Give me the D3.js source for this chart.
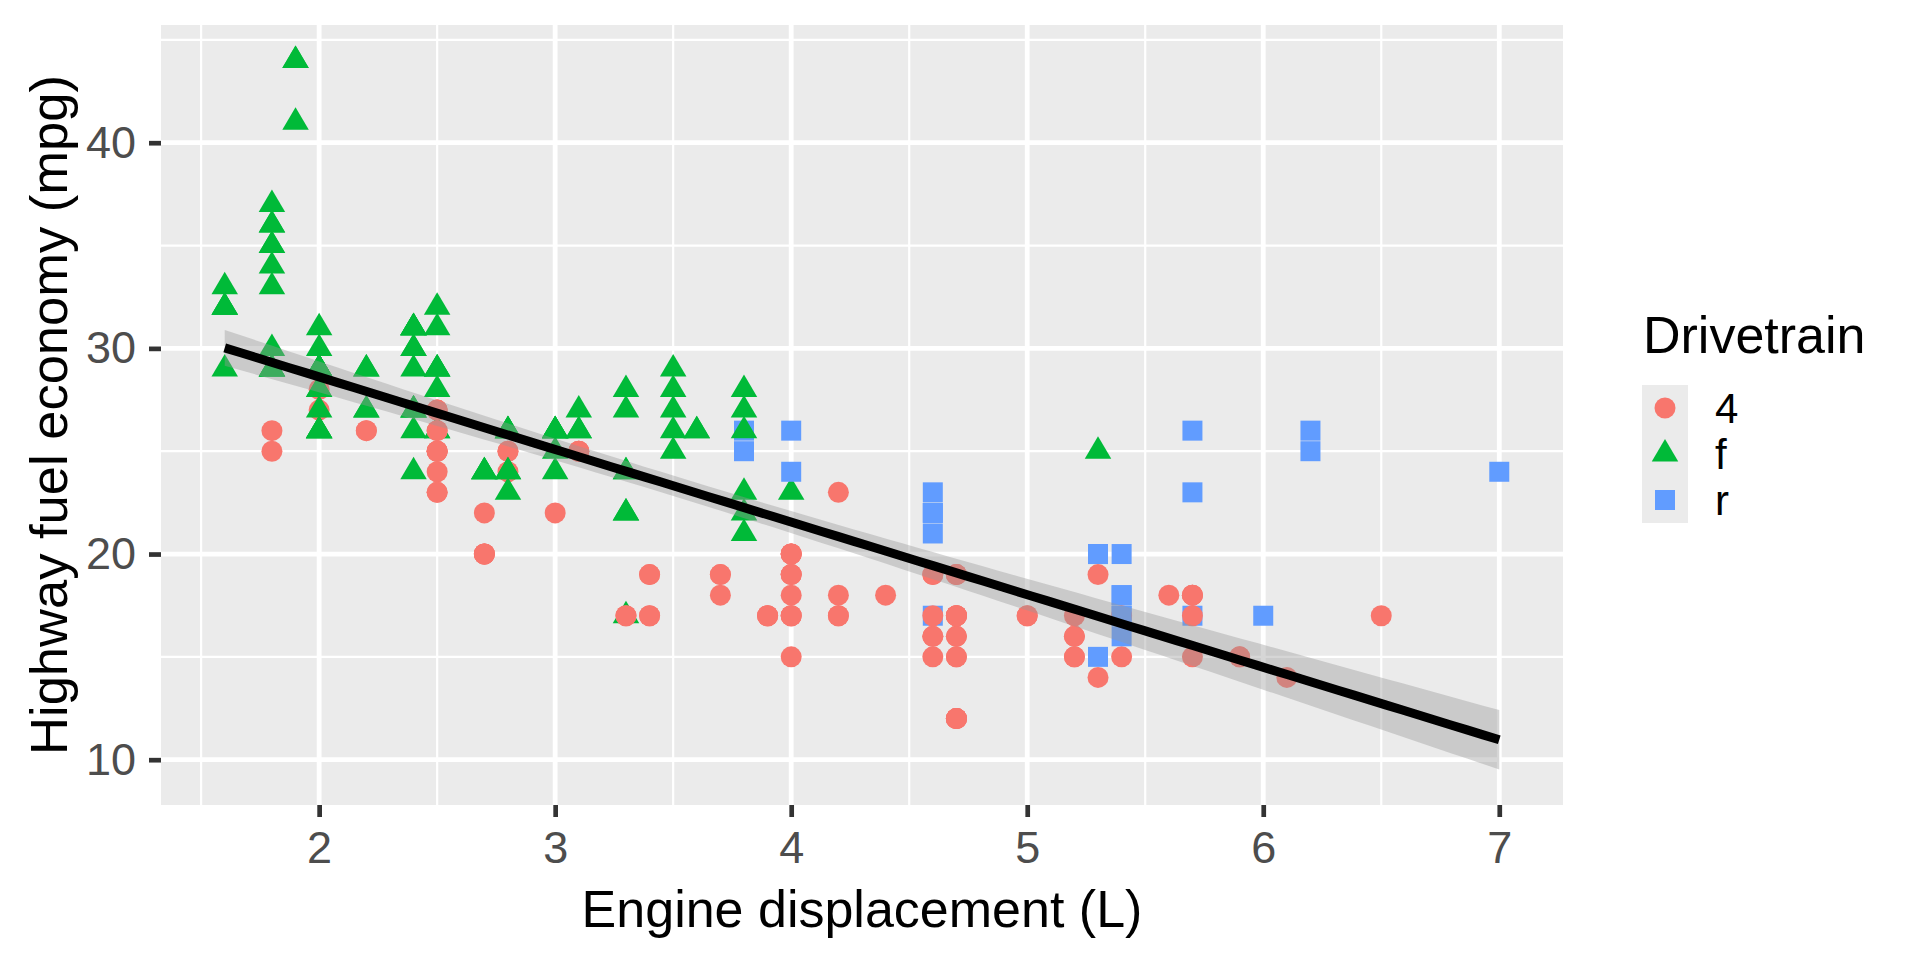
<!DOCTYPE html>
<html lang="en">
<head>
<meta charset="UTF-8">
<title>Highway fuel economy vs engine displacement</title>
<script src="https://cdn.jsdelivr.net/npm/d3@7"></script>
<style>
  body { margin: 0; background: #fff; }
  svg { display: block; font-family: "Liberation Sans", Arial, sans-serif; }
</style>
</head>
<body>
<svg id="chart" width="1920" height="960"></svg>
<script>
// one value per car, in row order (drawing order matters for overlaps)
const displ = [
  // audi
  1.8,1.8,2.0,2.0,2.8,2.8,3.1,1.8,1.8,2.0,2.0,2.8,2.8,3.1,3.1,2.8,3.1,4.2,
  // chevrolet
  5.3,5.3,5.3,5.7,6.0,5.7,5.7,6.2,6.2,7.0,5.3,5.3,5.7,6.5,2.4,2.4,3.1,3.5,3.6,
  // dodge
  2.4,3.0,3.3,3.3,3.3,3.3,3.3,3.8,3.8,3.8,4.0,
  3.7,3.7,3.9,3.9,4.7,4.7,4.7,5.2,5.2,
  3.9,4.7,4.7,4.7,5.2,5.7,5.9,
  4.7,4.7,4.7,4.7,4.7,4.7,5.2,5.2,5.7,5.9,
  // ford
  4.6,5.4,5.4,4.0,4.0,4.0,4.0,4.6,5.0,4.2,4.2,4.6,4.6,4.6,5.4,5.4,
  3.8,3.8,4.0,4.0,4.6,4.6,4.6,4.6,5.4,
  // honda
  1.6,1.6,1.6,1.6,1.6,1.8,1.8,1.8,2.0,
  // hyundai
  2.4,2.4,2.4,2.4,2.5,2.5,3.3,2.0,2.0,2.0,2.0,2.7,2.7,2.7,
  // jeep
  3.0,3.7,4.0,4.7,4.7,4.7,5.7,6.1,
  // land rover
  4.0,4.2,4.4,4.6,
  // lincoln
  5.4,5.4,5.4,
  // mercury
  4.0,4.0,4.6,5.0,
  // nissan
  2.4,2.4,2.5,2.5,3.5,3.5,3.0,3.0,3.5,3.3,3.3,4.0,5.6,
  // pontiac
  3.1,3.8,3.8,3.8,5.3,
  // subaru
  2.5,2.5,2.5,2.5,2.5,2.5,2.2,2.2,2.5,2.5,2.5,2.5,2.5,2.5,
  // toyota
  2.7,2.7,3.4,3.4,4.0,4.7,2.2,2.2,2.4,2.4,3.0,3.0,3.5,
  2.2,2.2,2.4,2.4,3.0,3.0,3.3,1.8,1.8,1.8,1.8,1.8,
  4.7,5.7,2.7,2.7,2.7,3.4,3.4,4.0,4.0,
  // volkswagen
  2.0,2.0,2.0,2.0,2.8,1.9,2.0,2.0,2.0,2.0,2.5,2.5,2.8,2.8,
  1.9,1.9,2.0,2.0,2.5,2.5,1.8,1.8,2.0,2.0,2.8,2.8,3.6
];

const hwy = [
  // audi
  29,29,31,30,26,26,27,26,25,28,27,25,25,25,25,24,25,23,
  // chevrolet
  20,15,20,17,17,26,23,26,25,24,19,14,15,17,27,30,26,29,26,
  // dodge
  24,24,22,22,24,24,17,22,21,23,23,
  19,18,17,17,19,19,12,17,15,
  17,17,12,17,16,18,15,
  16,12,15,16,17,12,15,16,17,15,
  // ford
  17,17,18,17,19,17,19,19,17,17,17,16,16,17,15,17,
  26,25,26,24,21,22,23,22,20,
  // honda
  33,32,32,29,32,34,36,36,29,
  // hyundai
  26,27,30,31,26,26,28,26,29,28,27,24,24,24,
  // jeep
  22,19,20,17,12,19,18,14,
  // land rover
  15,18,18,15,
  // lincoln
  17,16,18,
  // mercury
  17,19,19,17,
  // nissan
  29,27,31,32,27,26,26,25,25,17,17,20,18,
  // pontiac
  26,26,27,28,25,
  // subaru
  25,24,27,25,26,23,26,26,27,25,27,25,26,23,
  // toyota
  20,20,19,17,20,17,29,27,31,31,26,26,28,
  27,29,31,31,26,26,27,30,33,35,37,35,
  15,18,20,20,22,17,19,18,20,
  // volkswagen
  29,26,29,29,24,44,29,26,29,29,29,29,23,24,
  44,41,29,26,28,29,29,29,28,29,26,26,26
];

const drv = [
  // audi
  "f","f","f","f","f","f","f","4","4","4","4","4","4","4","4","4","4","4",
  // chevrolet
  "r","r","r","r","r","r","r","r","r","r","4","4","4","4","f","f","f","f","f",
  // dodge
  "f","f","f","f","f","f","f","f","f","f","f",
  "4","4","4","4","4","4","4","4","4",
  "4","4","4","4","4","4","4",
  "4","4","4","4","4","4","4","4","4","4",
  // ford
  "r","r","r","4","4","4","4","4","4","4","4","4","4","4","4","4",
  "r","r","r","r","r","r","r","r","r",
  // honda
  "f","f","f","f","f","f","f","f","f",
  // hyundai
  "f","f","f","f","f","f","f","f","f","f","f","f","f","f",
  // jeep
  "4","4","4","4","4","4","4","4",
  // land rover
  "4","4","4","4",
  // lincoln
  "r","r","r",
  // mercury
  "4","4","4","4",
  // nissan
  "f","f","f","f","f","f","f","f","f","4","4","4","4",
  // pontiac
  "f","f","f","f","f",
  // subaru
  "4","4","4","4","4","4","4","4","4","4","4","4","4","4",
  // toyota
  "4","4","4","4","4","4","f","f","f","f","f","f","f",
  "f","f","f","f","f","f","f","f","f","f","f","f",
  "4","4","4","4","4","4","4","4","4",
  // volkswagen
  "f","f","f","f","f","f","f","f","f","f","f","f","f","f",
  "f","f","f","f","f","f","f","f","f","f","f","f","f"
];

const drvLevels = ["4", "f", "r"];
const drvColors = ["#F8766D", "#00BA38", "#619CFF"];
const xTicks = [2, 3, 4, 5, 6, 7];
const yTicks = [10, 20, 30, 40];
const xMinor = [1.5, 2.5, 3.5, 4.5, 5.5, 6.5];
const yMinor = [15, 25, 35, 45];
const xTitle = "Engine displacement (L)";
const yTitle = "Highway fuel economy (mpg)";
const legendTitle = "Drivetrain";
const tCrit = 1.9703; // qt(0.975, df = 232)

const width = 1920, height = 960;
const panel = { left: 161, top: 25, right: 1563, bottom: 805 };

// linear model hwy ~ displ with 95% confidence band
const n = displ.length;
const xbar = d3.mean(displ), ybar = d3.mean(hwy);
const sxx = d3.sum(displ, x => (x - xbar) ** 2);
const sxy = d3.sum(displ, (x, i) => (x - xbar) * (hwy[i] - ybar));
const slope = sxy / sxx;
const intercept = ybar - slope * xbar;
const rss = d3.sum(displ, (x, i) => (hwy[i] - intercept - slope * x) ** 2);
const sigma = Math.sqrt(rss / (n - 2));
const [xmin, xmax] = d3.extent(displ);
const fit = d3.range(80).map(k => {
    const x = xmin + (xmax - xmin) * k / 79;
    const y = intercept + slope * x;
    const se = sigma * Math.sqrt(1 / n + (x - xbar) ** 2 / sxx);
    return { x, y, lo: y - tCrit * se, hi: y + tCrit * se };
});

function expand([a, b]) {
    const pad = (b - a) * 0.05;
    return [a - pad, b + pad];
}

const x = d3.scaleLinear()
    .domain(expand([xmin, xmax]))
    .range([panel.left, panel.right]);

const y = d3.scaleLinear()
    .domain(expand([
        Math.min(d3.min(hwy), d3.min(fit, d => d.lo)),
        Math.max(d3.max(hwy), d3.max(fit, d => d.hi))
    ]))
    .range([panel.bottom, panel.top]);

const color = d3.scaleOrdinal().domain(drvLevels).range(drvColors);

function shapePath(level) {
    if (level === "4") return d3.symbol(d3.symbolCircle, Math.PI * 10.5 * 10.5)();
    if (level === "r") return d3.symbol(d3.symbolSquare, 20 * 20)();
    const w = 26.5, h = 22.5;
    return `M0,${-2 * h / 3}L${w / 2},${h / 3}L${-w / 2},${h / 3}Z`;
}

const svg = d3.select("#chart")
    .attr("viewBox", [0, 0, width, height]);

svg.append("rect")
    .attr("width", width).attr("height", height)
    .attr("fill", "#ffffff");

// panel background + grid
svg.append("rect")
    .attr("x", panel.left).attr("y", panel.top)
    .attr("width", panel.right - panel.left)
    .attr("height", panel.bottom - panel.top)
    .attr("fill", "#EBEBEB");

const grid = svg.append("g").attr("stroke", "#ffffff");

grid.selectAll(".xminor").data(xMinor).join("line")
    .attr("x1", d => x(d)).attr("x2", d => x(d))
    .attr("y1", panel.top).attr("y2", panel.bottom)
    .attr("stroke-width", 2.2);

grid.selectAll(".yminor").data(yMinor.filter(v => y(v) >= panel.top)).join("line")
    .attr("x1", panel.left).attr("x2", panel.right)
    .attr("y1", d => y(d)).attr("y2", d => y(d))
    .attr("stroke-width", 2.2);

grid.selectAll(".xmajor").data(xTicks).join("line")
    .attr("x1", d => x(d)).attr("x2", d => x(d))
    .attr("y1", panel.top).attr("y2", panel.bottom)
    .attr("stroke-width", 4.8);

grid.selectAll(".ymajor").data(yTicks).join("line")
    .attr("x1", panel.left).attr("x2", panel.right)
    .attr("y1", d => y(d)).attr("y2", d => y(d))
    .attr("stroke-width", 4.8);

// points
svg.append("g")
    .selectAll("path")
    .data(d3.range(n))
    .join("path")
    .attr("d", i => shapePath(drv[i]))
    .attr("transform", i => `translate(${x(displ[i])},${y(hwy[i])})`)
    .attr("fill", i => color(drv[i]));

// confidence band and fitted line
svg.append("path")
    .datum(fit)
    .attr("d", d3.area().x(d => x(d.x)).y0(d => y(d.lo)).y1(d => y(d.hi)))
    .attr("fill", "#999999")
    .attr("fill-opacity", 0.4);

svg.append("path")
    .datum(fit)
    .attr("d", d3.line().x(d => x(d.x)).y(d => y(d.y)))
    .attr("fill", "none")
    .attr("stroke", "#000000")
    .attr("stroke-width", 9);

// axes
const xAxis = svg.append("g")
    .attr("transform", `translate(0,${panel.bottom})`)
    .call(d3.axisBottom(x).tickValues(xTicks).tickFormat(d3.format("d"))
        .tickSize(12).tickPadding(14));

const yAxis = svg.append("g")
    .attr("transform", `translate(${panel.left},0)`)
    .call(d3.axisLeft(y).tickValues(yTicks).tickFormat(d3.format("d"))
        .tickSize(12).tickPadding(13));

[xAxis, yAxis].forEach(g => {
    g.select(".domain").remove();
    g.selectAll(".tick line").attr("stroke", "#333333").attr("stroke-width", 4.7);
    g.selectAll(".tick text")
        .attr("fill", "#4D4D4D")
        .attr("font-size", "45px")
        .attr("font-family", "'Liberation Sans', Arial, sans-serif");
});

svg.append("text")
    .attr("x", (panel.left + panel.right) / 2)
    .attr("y", 927)
    .attr("text-anchor", "middle")
    .attr("font-size", "52px")
    .attr("fill", "#000000")
    .text(xTitle);

svg.append("text")
    .attr("transform", `translate(67,${(panel.top + panel.bottom) / 2}) rotate(-90)`)
    .attr("text-anchor", "middle")
    .attr("font-size", "52.5px")
    .attr("fill", "#000000")
    .text(yTitle);

// legend
const legend = svg.append("g").attr("transform", "translate(1642,0)");

legend.append("text")
    .attr("x", 1)
    .attr("y", 353)
    .attr("font-size", "52px")
    .attr("fill", "#000000")
    .text(legendTitle);

const keyTop = 385, keySize = 46;

legend.append("rect")
    .attr("x", 0).attr("y", keyTop)
    .attr("width", keySize).attr("height", keySize * drvLevels.length)
    .attr("fill", "#EBEBEB");

const keys = legend.selectAll(".key")
    .data(drvLevels)
    .join("g")
    .attr("transform", (d, i) => `translate(0,${keyTop + keySize * i + keySize / 2})`);

keys.append("path")
    .attr("d", d => shapePath(d))
    .attr("transform", `translate(${keySize / 2},0)`)
    .attr("fill", d => color(d));

keys.append("text")
    .attr("x", 73)
    .attr("dy", "0.36em")
    .attr("font-size", "42px")
    .attr("fill", "#000000")
    .text(d => d);
</script>
</body>
</html>
